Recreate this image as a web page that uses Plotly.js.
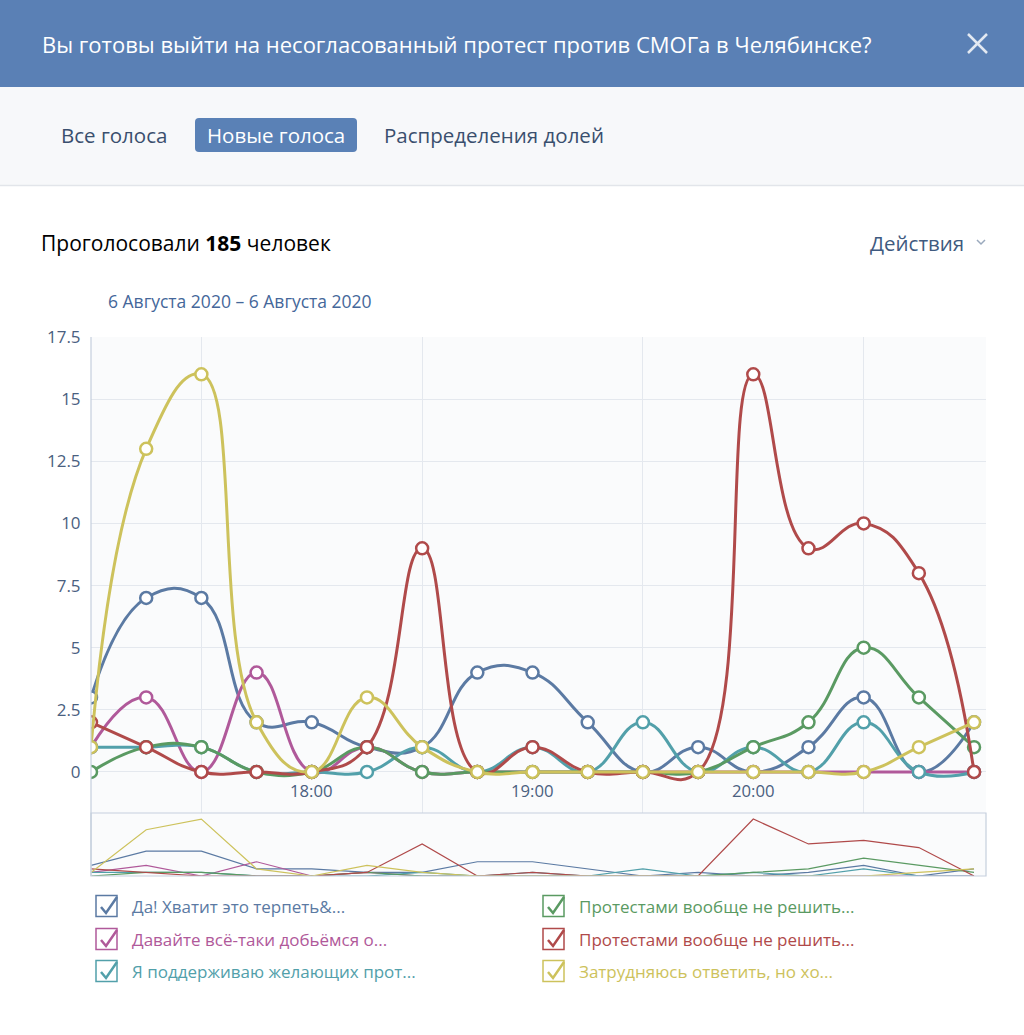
<!DOCTYPE html>
<html>
<head>
<meta charset="utf-8">
<script src="https://cdn.plot.ly/plotly-3.0.1.min.js"></script>
<style>html,body{margin:0;padding:0;background:#fff;}#chart{width:1024px;height:1035px;}</style>
</head>
<body>
<div id="chart"></div>
<script>
// ---- data ----
const times = ["17:00","17:15","17:30","17:45","18:00","18:15","18:30","18:45","19:00","19:15","19:30","19:45","20:00","20:15","20:30","20:45","21:00"];
const seriesNames = [
  "Да! Хватит это терпеть&...",
  "Давайте всё-таки добьёмся о...",
  "Я поддерживаю желающих прот...",
  "Протестами вообще не решить...",
  "Протестами вообще не решить...",
  "Затрудняюсь ответить, но хо..."
];
const seriesColors = ["#5b7aa3", "#b0599a", "#52a0aa", "#5a9a62", "#b04a4a", "#cdc25c"];
const valuesYes      = [3, 7, 7, 2, 2, 1, 1, 4, 4, 2, 0, 1, 0, 1, 3, 0, 2];
const valuesLetsGet  = [1, 3, 0, 4, 0, 1, 0, 0, 0, 0, 0, 0, 0, 0, 0, 0, 0];
const valuesSupport  = [1, 1, 1, 0, 0, 0, 1, 0, 1, 0, 2, 0, 1, 0, 2, 0, 0];
const valuesNoGreen  = [0, 1, 1, 0, 0, 1, 0, 0, 0, 0, 0, 0, 1, 2, 5, 3, 1];
const valuesNoRed    = [2, 1, 0, 0, 0, 1, 9, 0, 1, 0, 0, 0, 16, 9, 10, 8, 0];
const valuesUnsure   = [1, 13, 16, 2, 0, 3, 1, 0, 0, 0, 0, 0, 0, 0, 0, 1, 2];
const allValues = [valuesYes, valuesLetsGet, valuesSupport, valuesNoGreen, valuesNoRed, valuesUnsure];
const yTickVals = [0, 2.5, 5, 7.5, 10, 12.5, 15, 17.5];
const yTickText = ["0", "2.5", "5", "7.5", "10", "12.5", "15", "17.5"];
const hourLabels = ["18:00", "19:00", "20:00"];
const gridTimes = ["17:30", "18:30", "19:30", "20:30"];
const pollTitle = "Вы готовы выйти на несогласованный протест против СМОГа в Челябинске?";
const tabLabels = ["Все голоса", "Новые голоса", "Распределения долей"];
const totalVoters = "185";
const dateRange = "6 Августа 2020 – 6 Августа 2020";

// ---- layout helpers ----
const W = 1024, H = 1035;
const px = x => x / W;
const py = y => 1 - y / H;
const day = "2020-08-06 ";
const xDates = times.map(t => day + t);
const FONT = "'Open Sans', 'Noto Sans', sans-serif";

const traces = [];
allValues.forEach((vals, i) => {
  traces.push({
    type: "scatter", mode: "lines+markers", x: xDates, y: vals,
    xaxis: "x", yaxis: "y", name: seriesNames[i], showlegend: false,
    line: {color: seriesColors[i], width: 3, shape: "spline", smoothing: 1.3},
    marker: {symbol: "circle", size: 12, color: "#ffffff", line: {color: seriesColors[i], width: 2.5}},
    hoverinfo: "skip"
  });
});
allValues.forEach((vals, i) => {
  traces.push({
    type: "scatter", mode: "lines", x: xDates, y: vals,
    xaxis: "x2", yaxis: "y2", showlegend: false,
    line: {color: seriesColors[i], width: 1.2}, hoverinfo: "skip"
  });
});

const L = 91, R = 986;
const shapes = [
  // header
  {type: "rect", xref: "paper", yref: "paper", x0: 0, x1: 1, y0: py(87), y1: 1, fillcolor: "#5a80b5", line: {width: 0}, layer: "below"},
  // tab bar
  {type: "rect", xref: "paper", yref: "paper", x0: 0, x1: 1, y0: py(185), y1: py(87), fillcolor: "#f7f8fa", line: {width: 0}, layer: "below"},
  {type: "line", xref: "paper", yref: "paper", x0: 0, x1: 1, y0: py(185.5), y1: py(185.5), line: {color: "#e2e5ea", width: 1.5}},
  // active tab button
  {type: "path", xref: "paper", yref: "paper", layer: "below", fillcolor: "#5a81b6", line: {width: 0},
    path: `M ${px(199)} ${py(118)} L ${px(353)} ${py(118)} Q ${px(357)} ${py(118)} ${px(357)} ${py(122)} L ${px(357)} ${py(148)} Q ${px(357)} ${py(152)} ${px(353)} ${py(152)} L ${px(199)} ${py(152)} Q ${px(195)} ${py(152)} ${px(195)} ${py(148)} L ${px(195)} ${py(122)} Q ${px(195)} ${py(118)} ${px(199)} ${py(118)} Z`},
  // close X
  {type: "line", xref: "paper", yref: "paper", x0: px(968), x1: px(987), y0: py(34), y1: py(53), line: {color: "#e3e9f2", width: 2.5}},
  {type: "line", xref: "paper", yref: "paper", x0: px(968), x1: px(987), y0: py(53), y1: py(34), line: {color: "#e3e9f2", width: 2.5}},
  // chevron
  {type: "path", xref: "paper", yref: "paper", line: {color: "#9aa9bd", width: 1.5},
    path: `M ${px(977)} ${py(240)} L ${px(981)} ${py(244)} L ${px(985)} ${py(240)}`},
  // plot left axis line & navigator border
  {type: "line", xref: "paper", yref: "paper", x0: px(L), x1: px(L), y0: py(876), y1: py(337), line: {color: "#c5cfdd", width: 1.2}},
  {type: "rect", xref: "paper", yref: "paper", x0: px(L), x1: px(R), y0: py(876), y1: py(813), line: {color: "#c5cfdd", width: 1.2}}
];

const annotations = [
  {text: pollTitle, x: px(40), y: py(44), xref: "paper", yref: "paper", xanchor: "left", yanchor: "middle", showarrow: false, font: {family: FONT, size: 22, color: "#ffffff"}},
  {text: tabLabels[0], x: px(59), y: py(135), xref: "paper", yref: "paper", xanchor: "left", yanchor: "middle", showarrow: false, font: {family: FONT, size: 20.5, color: "#3a4f6e"}},
  {text: tabLabels[1], x: px(276), y: py(135), xref: "paper", yref: "paper", xanchor: "center", yanchor: "middle", showarrow: false, font: {family: FONT, size: 20.5, color: "#ffffff"}},
  {text: tabLabels[2], x: px(382), y: py(135), xref: "paper", yref: "paper", xanchor: "left", yanchor: "middle", showarrow: false, font: {family: FONT, size: 20.5, color: "#3a4f6e"}},
  {text: "Проголосовали <b>" + totalVoters + "</b> человек", x: px(39), y: py(243), xref: "paper", yref: "paper", xanchor: "left", yanchor: "middle", showarrow: false, font: {family: FONT, size: 21, color: "#000000"}},
  {text: "Действия", x: px(966), y: py(243), xref: "paper", yref: "paper", xanchor: "right", yanchor: "middle", showarrow: false, font: {family: FONT, size: 20.5, color: "#3f5a80"}},
  {text: dateRange, x: px(106), y: py(301), xref: "paper", yref: "paper", xanchor: "left", yanchor: "middle", showarrow: false, font: {family: FONT, size: 17.5, color: "#45679a"}}
];
hourLabels.forEach(h => {
  annotations.push({text: h, x: day + h, y: -0.75, xref: "x", yref: "y", xanchor: "center", yanchor: "middle", showarrow: false, font: {family: FONT, size: 16.7, color: "#4a6080"}});
});

// legend (custom checkboxes)
const legendCols = [96, 543];
const legendRows = [906, 939, 971];
seriesNames.forEach((name, i) => {
  const col = Math.floor(i / 3), row = i % 3;
  const bx = legendCols[col], by = legendRows[row];
  const c = seriesColors[i];
  shapes.push({type: "rect", xref: "paper", yref: "paper", x0: px(bx), x1: px(bx + 21), y0: py(by + 10.5), y1: py(by - 10.5), line: {color: c, width: 1.5}, fillcolor: "rgba(0,0,0,0)"});
  shapes.push({type: "path", xref: "paper", yref: "paper", line: {color: c, width: 2.5},
    path: `M ${px(bx + 5)} ${py(by + 1)} L ${px(bx + 10)} ${py(by + 7)} L ${px(bx + 21)} ${py(by - 9)}`});
  annotations.push({text: name, x: px(bx + 34), y: py(by), xref: "paper", yref: "paper", xanchor: "left", yanchor: "middle", showarrow: false, font: {family: FONT, size: 17, color: c}});
});

const xRange = [day + "17:00:00", day + "21:03:15"];
const layout = {
  width: W, height: H, margin: {l: 0, r: 0, t: 0, b: 0},
  paper_bgcolor: "#ffffff", plot_bgcolor: "#fafbfc",
  showlegend: false,
  xaxis: {domain: [px(L), px(R)], range: xRange, type: "date", tickvals: gridTimes.map(t => day + t), showticklabels: false, showgrid: true, gridcolor: "#e4e8ee", gridwidth: 1, zeroline: false, showline: false, ticks: "", fixedrange: true},
  yaxis: {domain: [py(813), py(337)], range: [-1.65, 17.5], tickvals: yTickVals, ticktext: yTickText, showgrid: true, gridcolor: "#e4e8ee", gridwidth: 1, zeroline: false, showline: false, ticks: "outside", ticklen: 6, tickcolor: "rgba(0,0,0,0)", tickfont: {family: FONT, size: 17, color: "#4a6080"}, fixedrange: true},
  xaxis2: {domain: [px(L), px(R)], range: xRange, type: "date", anchor: "y2", showticklabels: false, showgrid: false, zeroline: false, showline: false, ticks: "", fixedrange: true},
  yaxis2: {domain: [py(876), py(813)], range: [0, 17.7], anchor: "x2", showticklabels: false, showgrid: false, zeroline: false, showline: false, ticks: "", fixedrange: true},
  shapes: shapes,
  annotations: annotations
};
Plotly.newPlot("chart", traces, layout, {displayModeBar: false, staticPlot: true});
</script>
</body>
</html>
